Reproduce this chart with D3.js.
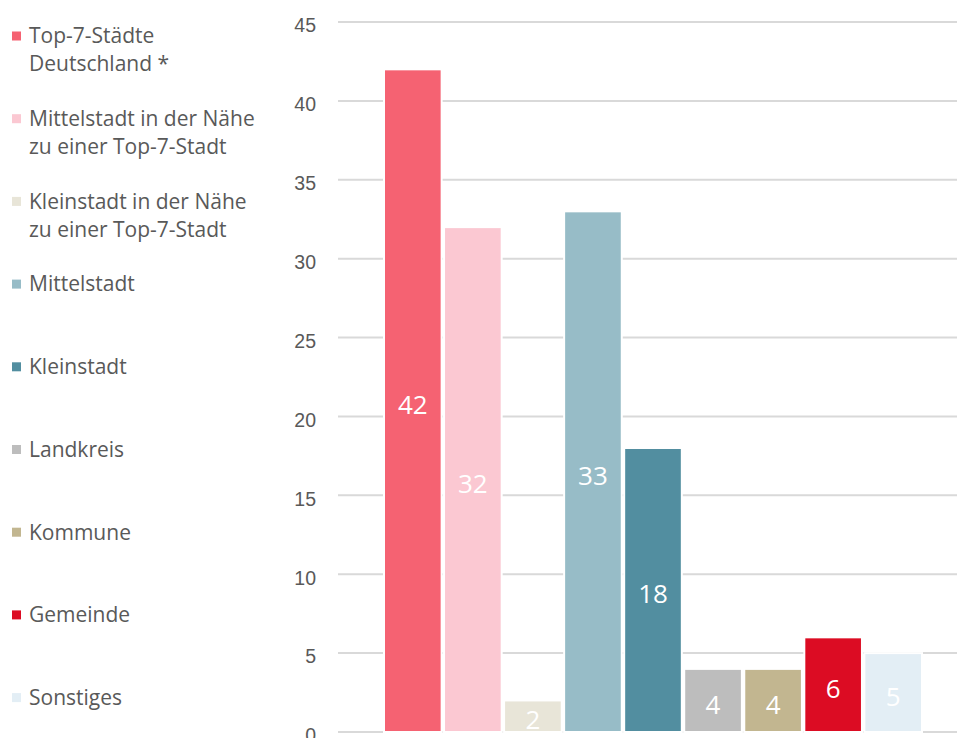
<!DOCTYPE html>
<html>
<head>
<meta charset="utf-8">
<script src="https://cdn.jsdelivr.net/npm/d3@7"></script>
<style>
  html, body { margin: 0; padding: 0; background: #fff; }
  svg { display: block; font-family: "Open Sans", Lato, sans-serif; }
</style>
</head>
<body>
<svg id="chart" width="957" height="738"></svg>
<script>
// Kategorien (Legende, mit Zeilenumbrüchen) und Werte je Balken
const categories = [
  ["Top-7-Städte", "Deutschland *"],
  ["Mittelstadt in der Nähe", "zu einer Top-7-Stadt"],
  ["Kleinstadt in der Nähe", "zu einer Top-7-Stadt"],
  ["Mittelstadt"],
  ["Kleinstadt"],
  ["Landkreis"],
  ["Kommune"],
  ["Gemeinde"],
  ["Sonstiges"]
];
const values = [42, 32, 2, 33, 18, 4, 4, 6, 5];
const colors = ["#F56272", "#FBC8D2", "#E8E5D8", "#97BCC7", "#528EA0",
                "#BDBDBD", "#C2B690", "#DC0C23", "#E3EEF5"];
const yTicks = [0, 5, 10, 15, 20, 25, 30, 35, 40, 45];

const svg = d3.select("#chart");
const keys = categories.map(c => c.join(" "));

const x = d3.scaleBand().domain(keys).range([384, 922]).paddingInner(0.04).paddingOuter(0);
const y = d3.scaleLinear().domain([0, 45]).range([732, 22]);

// Gitterlinien
svg.append("g").selectAll("line").data(yTicks).join("line")
  .attr("x1", 338).attr("x2", 957)
  .attr("y1", d => y(d)).attr("y2", d => y(d))
  .attr("stroke", "#D9D9D9").attr("stroke-width", 2);

// Achsenbeschriftung
const yAxis = d3.axisLeft(y).tickValues(yTicks).tickSize(0).tickPadding(0);
const gAxis = svg.append("g").attr("transform", "translate(316,3)").call(yAxis);
gAxis.select(".domain").remove();
gAxis.selectAll("text")
  .attr("fill", "#595959")
  .attr("font-size", 19.5)
  .attr("dy", "0.35em");

// Balken
svg.append("g").selectAll("rect").data(values).join("rect")
  .attr("x", (d, i) => x(keys[i]))
  .attr("width", x.bandwidth())
  .attr("y", d => y(d))
  .attr("height", d => y(0) - y(d))
  .attr("fill", (d, i) => colors[i])
  .attr("stroke", "#fff").attr("stroke-width", 2);

// Wertbeschriftung in den Balken
svg.append("g").selectAll("text").data(values).join("text")
  .attr("x", (d, i) => x(keys[i]) + x.bandwidth() / 2)
  .attr("y", d => (y(d) + y(0)) / 2 + 4)
  .attr("dy", "0.35em")
  .attr("text-anchor", "middle")
  .attr("fill", "#fff")
  .attr("font-size", 26)
  .text(d => d);

// Legende
const legend = svg.append("g").selectAll("g").data(categories).join("g")
  .attr("transform", (d, i) => `translate(12, ${36 + i * 82.7})`);
legend.append("rect")
  .attr("x", 0).attr("y", -4.5).attr("width", 9).attr("height", 9)
  .attr("fill", (d, i) => colors[i]);
legend.each(function(lines) {
  const t = d3.select(this).append("text")
    .attr("x", 17).attr("y", 0)
    .attr("fill", "#595959").attr("font-size", 21);
  lines.forEach((ln, j) => {
    t.append("tspan").attr("x", 17).attr("dy", j === 0 ? "0.35em" : 28).text(ln);
  });
});
</script>
</body>
</html>
